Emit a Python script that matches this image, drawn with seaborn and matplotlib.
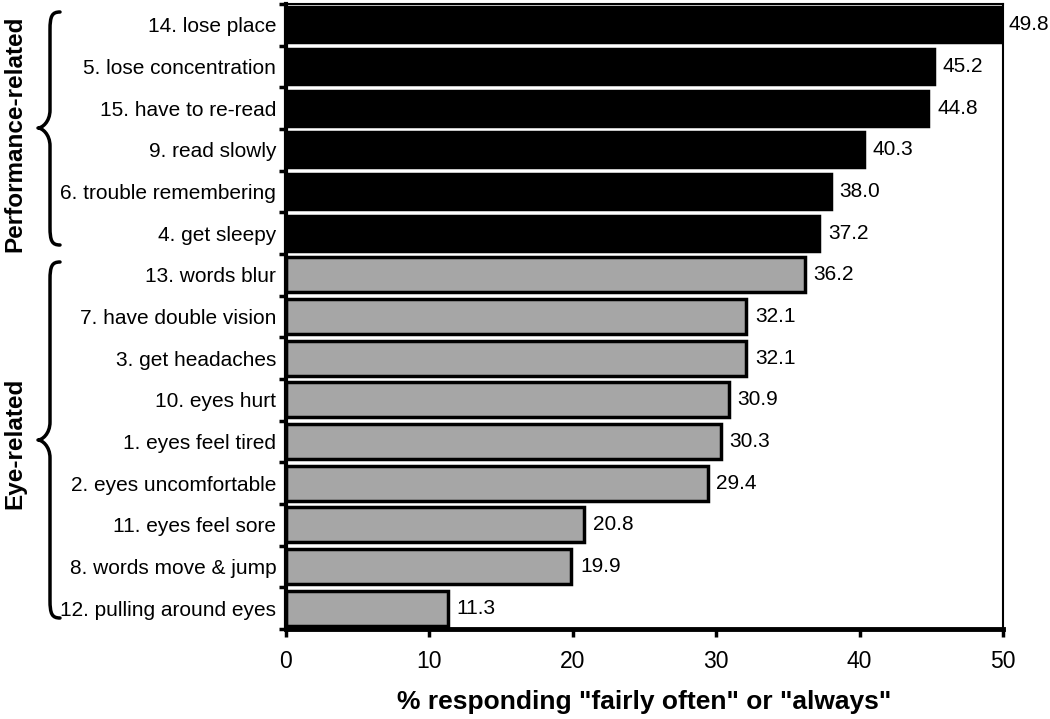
import matplotlib
matplotlib.use("Agg")
import matplotlib.pyplot as plt
import seaborn as sns
import pandas as pd
from matplotlib.path import Path
from matplotlib.patches import PathPatch

items = ["14. lose place", "5. lose concentration", "15. have to re-read", "9. read slowly",
         "6. trouble remembering", "4. get sleepy", "13. words blur", "7. have double vision",
         "3. get headaches", "10. eyes hurt", "1. eyes feel tired", "2. eyes uncomfortable",
         "11. eyes feel sore", "8. words move & jump", "12. pulling around eyes"]
pct = [49.8, 45.2, 44.8, 40.3, 38.0, 37.2, 36.2, 32.1, 32.1, 30.9, 30.3, 29.4, 20.8, 19.9, 11.3]
group = ["Performance-related"] * 6 + ["Eye-related"] * 9
xticks = [0, 10, 20, 30, 40, 50]

df = pd.DataFrame({"item": items, "pct": pct, "group": group})

sns.set_style("white")
plt.rcParams["font.family"] = ["Liberation Sans", "DejaVu Sans"]
for k in ["text.color", "axes.labelcolor", "xtick.color", "ytick.color"]:
    plt.rcParams[k] = "black"

W, H = 1050, 719
fig = plt.figure(figsize=(W / 100, H / 100), dpi=100)
ax = fig.add_axes([286 / W, 1 - 629 / H, (1003 - 286) / W, (629 - 4) / H])

sns.barplot(data=df, y="item", x="pct", hue="group",
            palette={"Performance-related": "black", "Eye-related": "#a6a6a6"},
            dodge=False, width=0.84, edgecolor="black", linewidth=2.5, legend=False, ax=ax)

ax.set_xlim(0, 50)
ax.set_ylim(14.5, -0.5)
ax.set_xticks(xticks)
ax.set_xticklabels([str(t) for t in xticks], fontsize=16.5)
ax.tick_params(axis="x", direction="out", length=6, width=2.5, pad=9, bottom=True)
ax.tick_params(axis="y", which="major", length=0, pad=7, labelsize=15)
ax.set_yticks([i + 0.5 for i in range(-1, 15)], minor=True)
ax.tick_params(axis="y", which="minor", direction="out", length=5, width=2.5, left=True)
ax.set_ylabel("")
ax.set_xlabel('% responding "fairly often" or "always"', fontsize=19, fontweight="bold", labelpad=12)

for side, lw in [("left", 3), ("bottom", 3.5), ("top", 1.5), ("right", 1.5)]:
    ax.spines[side].set_visible(True)
    ax.spines[side].set_color("black")
    ax.spines[side].set_linewidth(lw)

for i, v in enumerate(pct):
    ax.text(v + 0.6, i, f"{v:.1f}", va="center", ha="left", fontsize=15, clip_on=False)


def brace(x_end, x_mid, x_tip, y_top, y_tip, y_bot, r=18):
    pts = [(x_end, y_top),
           (x_mid + 2, y_top), (x_mid, y_top + 4), (x_mid, y_top + r),
           (x_mid, y_tip - r),
           (x_mid, y_tip - 6), (x_tip + 4, y_tip), (x_tip, y_tip),
           (x_tip + 4, y_tip), (x_mid, y_tip + 6), (x_mid, y_tip + r),
           (x_mid, y_bot - r),
           (x_mid, y_bot - 4), (x_mid + 2, y_bot), (x_end, y_bot)]
    codes = [Path.MOVETO] + [Path.CURVE4] * 3 + [Path.LINETO] + [Path.CURVE4] * 6 + [Path.LINETO] + [Path.CURVE4] * 3
    pts = [(x / W, 1 - y / H) for x, y in pts]
    fig.add_artist(PathPatch(Path(pts, codes), transform=fig.transFigure, fill=False, lw=2.5, color="black",
                             capstyle="round", joinstyle="round"))


brace(60, 50, 38, 12, 128, 245)
brace(60, 50, 38, 262, 440, 618)
fig.text(15 / W, 1 - 134 / H, "Performance-related", rotation=90, ha="center", va="center", fontsize=17.5, fontweight="bold")
fig.text(15 / W, 1 - 443 / H, "Eye-related", rotation=90, ha="center", va="center", fontsize=17.5, fontweight="bold")

fig.savefig("out.png", dpi=100)
